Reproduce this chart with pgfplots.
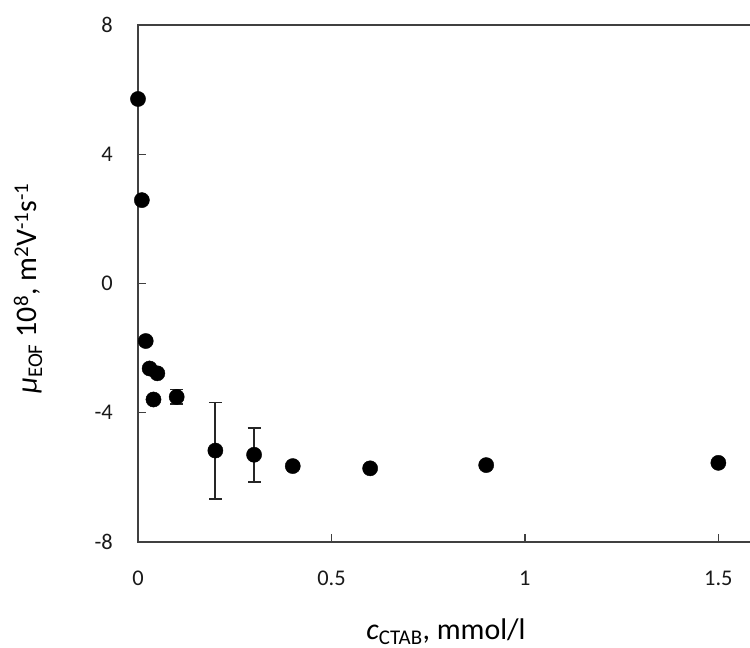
\documentclass[border=0pt]{standalone}
\usepackage{fontspec}
\setmainfont{Carlito}
\usepackage{pgfplots}
\pgfplotsset{compat=1.18}
\begin{document}
\begin{tikzpicture}
\useasboundingbox (-138bp,-106bp) rectangle (612bp,542bp);
\begin{axis}[
  at={(0,0)}, anchor=south west,
  scale only axis, width=612bp, height=517bp,
  xmin=0, xmax=1.5818, ymin=-8, ymax=8,
  axis lines=left,
  axis line style={-, draw=black!75, line width=1.6bp, line cap=rect},
  tick align=inside, major tick length=8bp,
  tick style={draw=black!75, line width=1.3bp},
  xtick={0,0.5,1,1.5}, ytick={-8,-4,0,4,8},
  minor tick num=0,
  /pgf/number format/assume math mode=true,
  ticklabel style={font=\fontsize{22.5}{27}\selectfont, text=black!90},
  xticklabel style={anchor=center, inner sep=0pt, yshift=-36bp},
  yticklabel style={anchor=east, inner sep=0pt, xshift=-25bp},
  clip=false,
]
\draw[black!75, line width=1.6bp, line cap=rect] (rel axis cs:0,1) -- (rel axis cs:1,1);
\addplot[only marks, mark=*, mark size=7.6bp, black, mark options={fill=black, draw=black},
  error bars/.cd, y dir=both, y explicit,
  error bar style={line width=1.8bp, black!85},
  error mark options={rotate=90, mark size=6.5bp, line width=1.8bp, black!85}]
coordinates {
  (0.1,-3.51) +- (0,0.23)
  (0.2,-5.17) +- (0,1.49)
  (0.3,-5.30) +- (0,0.84)
};
\addplot[only marks, mark=*, mark size=7.6bp, black, mark options={fill=black, draw=black}]
coordinates {
  (0,5.71) (0.01,2.58) (0.02,-1.78) (0.03,-2.63) (0.05,-2.78) (0.04,-3.59)
  (0.4,-5.65) (0.6,-5.72) (0.9,-5.62) (1.5,-5.55)
};
\end{axis}
\node[anchor=base, font=\fontsize{30}{36}\selectfont] at (308bp,-97bp) {\textit{c}\textsubscript{CTAB}, mmol/l};
\node[rotate=90, anchor=base, font=\fontsize{30}{36}\selectfont] at (-101bp,253.5bp) {\textit{μ}\textsubscript{EOF} 10\textsuperscript{8}, m\textsuperscript{2}V\textsuperscript{-1}s\textsuperscript{-1}};
\end{tikzpicture}
\end{document}
